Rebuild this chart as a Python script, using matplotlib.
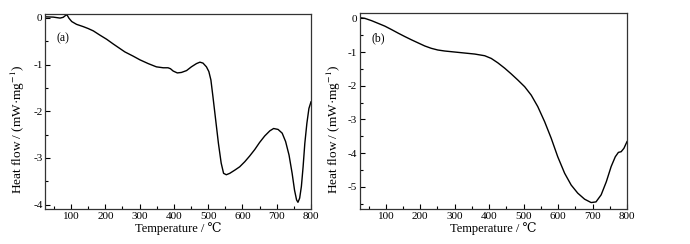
import matplotlib
matplotlib.use("Agg")
import matplotlib.pyplot as plt
from matplotlib.ticker import MultipleLocator

plt.rcParams['font.family'] = ['Liberation Serif', 'DejaVu Serif']
plt.rcParams['mathtext.fontset'] = 'stix'
plt.rcParams['axes.unicode_minus'] = False

# (a) DSC curve
temp_a = [26, 48, 68, 77, 84, 88, 94, 102, 116, 136, 150, 165, 184, 204, 223,
          243, 257, 281, 301, 325, 349, 369, 383, 390, 398, 410, 422, 437, 451,
          466, 476, 485, 495, 502, 508, 514, 522, 530, 538, 545, 553, 563, 578,
          592, 607, 621, 636, 650, 665, 680, 691, 704, 716, 726, 736, 745, 752,
          758, 762, 767, 772, 777, 782, 788, 794, 800]
heat_a = [0.02, 0.015, -0.006, 0.01, 0.05, 0.065, -0.01, -0.08, -0.14, -0.19,
          -0.23, -0.28, -0.37, -0.46, -0.56, -0.66, -0.73, -0.82, -0.90, -0.98,
          -1.05, -1.07, -1.07, -1.09, -1.14, -1.18, -1.17, -1.13, -1.05, -0.98,
          -0.95, -0.97, -1.05, -1.15, -1.33, -1.69, -2.19, -2.69, -3.11, -3.33,
          -3.36, -3.33, -3.26, -3.19, -3.08, -2.96, -2.82, -2.67, -2.53, -2.42,
          -2.37, -2.39, -2.47, -2.65, -2.94, -3.33, -3.69, -3.90, -3.95, -3.86,
          -3.61, -3.19, -2.69, -2.26, -1.94, -1.80]

# (b) DSC curve
temp_b = [25, 39, 59, 78, 97, 116, 136, 155, 175, 194, 213, 232, 251, 271, 300,
          329, 358, 387, 406, 425, 445, 464, 483, 503, 522, 541, 561, 580, 599,
          619, 638, 657, 677, 696, 710, 725, 740, 754, 766, 775, 783, 791, 800]
heat_b = [0.02, 0.0, -0.07, -0.15, -0.23, -0.33, -0.44, -0.54, -0.64, -0.73,
          -0.82, -0.89, -0.94, -0.97, -1.00, -1.03, -1.06, -1.11, -1.19, -1.32,
          -1.48, -1.65, -1.83, -2.03, -2.28, -2.62, -3.07, -3.56, -4.11, -4.60,
          -4.95, -5.19, -5.37, -5.47, -5.45, -5.24, -4.85, -4.40, -4.11, -3.98,
          -3.96, -3.86, -3.66]

x_ticks = [100, 200, 300, 400, 500, 600, 700, 800]
xlabel = 'Temperature / \u2103'
ylabel = 'Heat flow / (mW\u00b7mg$^{-1}$)'

fig = plt.figure(figsize=(6.9, 2.44), dpi=100)
ax1 = fig.add_axes([0.0657, 0.1422, 0.385, 0.7992])
ax2 = fig.add_axes([0.5217, 0.1422, 0.387, 0.8033])

fs = 8
for ax, t, h, ylim, ymaj, lab, lx in [
        (ax1, temp_a, heat_a, (-4.1, 0.075), [0, -1, -2, -3, -4], '(a)', -0.069),
        (ax2, temp_b, heat_b, (-5.67, 0.15), [0, -1, -2, -3, -4, -5], '(b)', -0.064)]:
    ax.plot(t, h, color='black', lw=1.0)
    ax.set_xlim(25, 800)
    ax.set_ylim(*ylim)
    ax.set_xticks(x_ticks)
    ax.set_yticks(ymaj)
    ax.xaxis.set_minor_locator(MultipleLocator(50))
    ax.yaxis.set_minor_locator(MultipleLocator(0.5))
    ax.tick_params(which='both', direction='in', top=False, right=False,
                   labelsize=fs, width=0.8, pad=2)
    ax.tick_params(which='major', length=3.5)
    ax.tick_params(which='minor', length=2)
    for s in ax.spines.values():
        s.set_linewidth(0.9)
        s.set_color('#333333')
    ax.set_xlabel(xlabel, fontsize=9, labelpad=1)
    ax.set_ylabel(ylabel, fontsize=9.5)
    ax.yaxis.set_label_coords(lx, 0.41)
    ax.text(0.067, 0.875, lab, transform=ax.transAxes, fontsize=8.5,
            ha='center', va='center')

fig.savefig('out.png', dpi=100)
